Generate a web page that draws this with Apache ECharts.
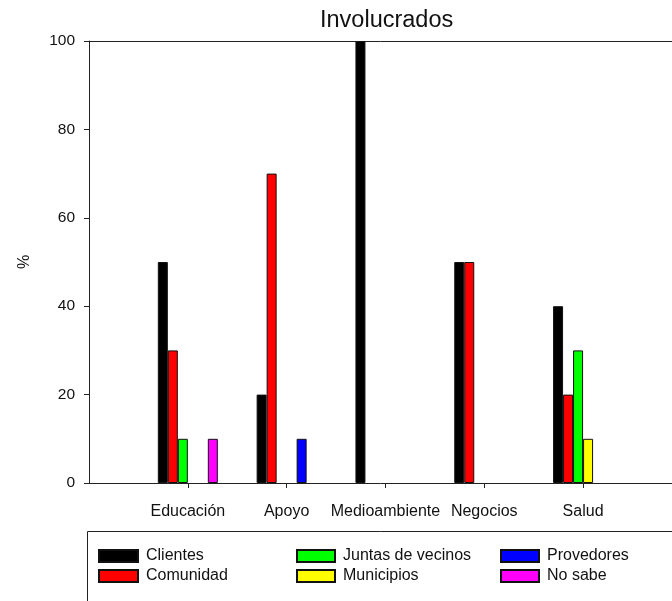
<!DOCTYPE html>
<html>
<head>
<meta charset="utf-8">
<script src="https://cdn.jsdelivr.net/npm/echarts@6/dist/echarts.min.js"></script>
<style>
  html, body { margin: 0; padding: 0; background: #ffffff; }
  #chart { width: 672px; height: 601px; }
</style>
</head>
<body>
<div id="chart"></div>
<script>
// Stakeholders involved per area (%)
const categories = ['Educación', 'Apoyo', 'Medioambiente', 'Negocios', 'Salud'];
const clientes   = [50, 20, 100, 50, 40];
const comunidad  = [30, 70, 0, 50, 20];
const juntas     = [10, 0, 0, 0, 30];
const municipios = [0, 0, 0, 0, 10];
const provedores = [0, 10, 0, 0, 0];
const noSabe     = [10, 0, 0, 0, 0];
const yTicks = [0, 20, 40, 60, 80, 100];

const seriesDefs = [
  { name: 'Clientes', data: clientes, color: '#000000' },
  { name: 'Comunidad', data: comunidad, color: '#ff0000' },
  { name: 'Juntas de vecinos', data: juntas, color: '#00ff00' },
  { name: 'Municipios', data: municipios, color: '#ffff00' },
  { name: 'Provedores', data: provedores, color: '#0000ff' },
  { name: 'No sabe', data: noSabe, color: '#ff00ff' }
];

const font = 'Liberation Sans, Arial, sans-serif';
const axisColor = '#222';

// groups sit at positions 1..n on a numeric x scale; the scale runs on past the last group
const xMax = 5.90;
const groupPositions = categories.map((c, i) => i + 1);

const series = seriesDefs.map(s => ({
  name: s.name,
  type: 'bar',
  barWidth: 10,
  barGap: '0%',
  data: s.data.map((v, i) => [groupPositions[i], v === 0 ? null : v]),
  itemStyle: { color: s.color, borderColor: '#111', borderWidth: 1 },
  emphasis: { disabled: true }
}));

const legendBase = {
  orient: 'vertical',
  top: 548,
  itemWidth: 39,
  itemHeight: 12,
  itemGap: 4,
  icon: 'rect',
  textStyle: { fontFamily: font, fontSize: 16, color: '#111', lineHeight: 16, padding: [0, 0, 0, 3] },
  padding: 0,
  selectedMode: false
};

const option = {
  animation: false,
  backgroundColor: '#ffffff',
  title: {
    text: 'Involucrados',
    left: 315,
    top: 4,
    textStyle: { fontFamily: font, fontSize: 23.5, fontWeight: 'normal', color: '#111' }
  },
  grid: { left: 89, top: 41, right: 0, height: 442 },
  legend: [
    Object.assign({}, legendBase, { left: 98, data: ['Clientes', 'Comunidad'] }),
    Object.assign({}, legendBase, { left: 296, itemWidth: 38, data: ['Juntas de vecinos', 'Municipios'] }),
    Object.assign({}, legendBase, { left: 500, itemWidth: 38, data: ['Provedores', 'No sabe'] })
  ],
  xAxis: [{
    type: 'value',
    min: 0,
    max: xMax,
    interval: 1,
    axisLine: { show: true, onZero: false, lineStyle: { color: axisColor, width: 1 } },
    axisTick: { show: true, inside: false, length: 5, customValues: groupPositions, lineStyle: { color: axisColor } },
    axisLabel: {
      fontFamily: font, fontSize: 16, color: '#111', margin: 21,
      customValues: groupPositions,
      formatter: v => categories[Math.round(v) - 1] || ''
    },
    splitLine: { show: false }
  }, {
    // frame line along the top of the plot
    type: 'value',
    position: 'top',
    min: 0,
    max: xMax,
    axisLine: { show: true, onZero: false, lineStyle: { color: axisColor, width: 1 } },
    axisTick: { show: false },
    axisLabel: { show: false },
    splitLine: { show: false }
  }],
  yAxis: {
    type: 'value',
    min: yTicks[0],
    max: yTicks[yTicks.length - 1],
    interval: yTicks[1] - yTicks[0],
    name: '%',
    nameLocation: 'middle',
    nameRotate: 90,
    nameGap: 56,
    nameTextStyle: { fontFamily: font, fontSize: 16, color: '#111' },
    axisLine: { show: true, lineStyle: { color: axisColor, width: 1 } },
    axisTick: { show: true, inside: false, length: 5, lineStyle: { color: axisColor } },
    axisLabel: { fontFamily: font, fontSize: 15.5, color: '#111', margin: 14 },
    splitLine: { show: false }
  },
  graphic: [{
    type: 'rect',
    shape: { x: 87.5, y: 531.5, width: 700, height: 120 },
    style: { fill: 'none', stroke: axisColor, lineWidth: 1 },
    silent: true
  }],
  series: series
};

const chart = echarts.init(document.getElementById('chart'), null, { renderer: 'canvas' });
chart.setOption(option);
</script>
</body>
</html>
